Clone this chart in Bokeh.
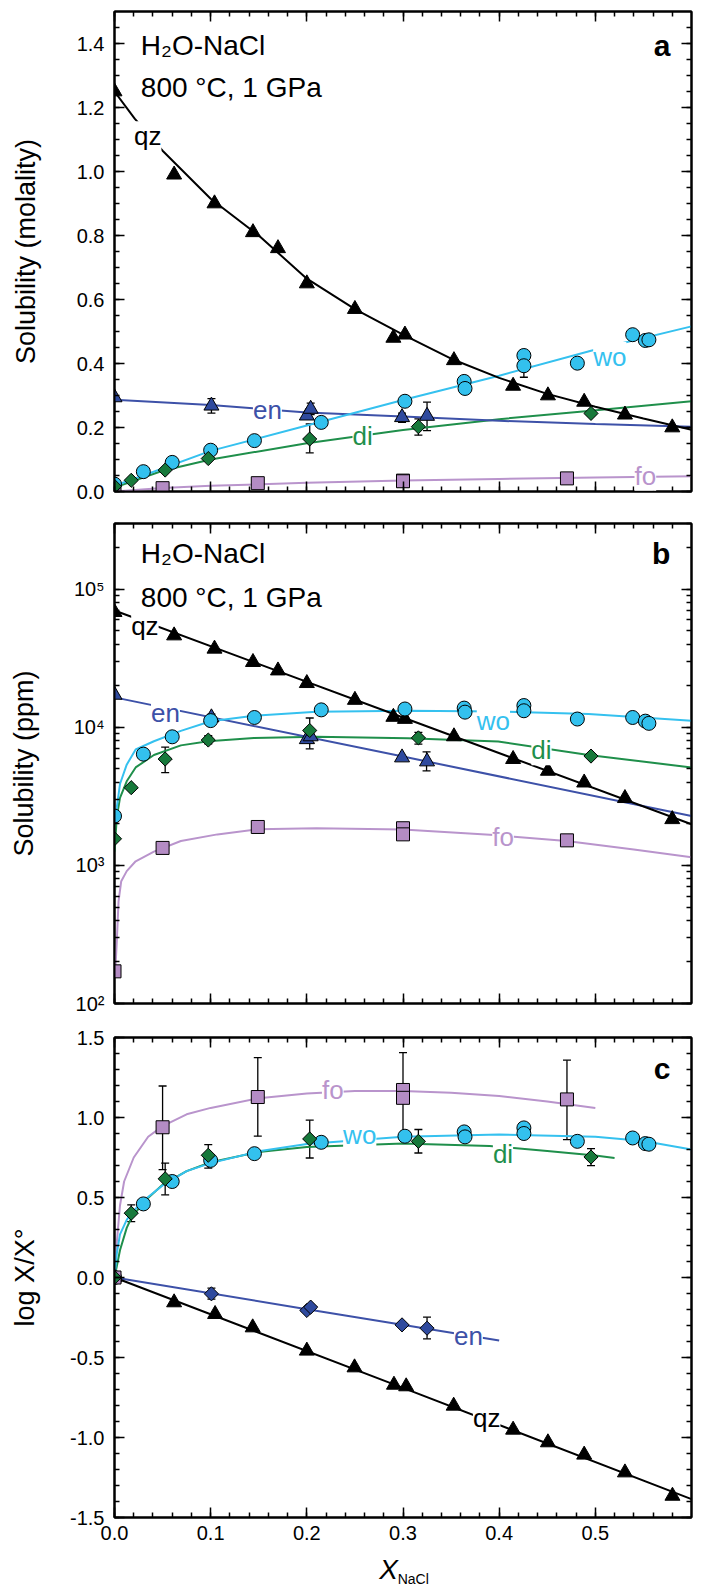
import math
from bokeh.plotting import figure
from bokeh.models import (Range1d, LinearAxis, LogAxis, SingleIntervalTicker, LogTicker,
                          Label, Whisker, TeeHead, ColumnDataSource, NumeralTickFormatter,
                          CustomJSTickFormatter)
from bokeh.layouts import column
from bokeh.embed import file_html
from bokeh.resources import INLINE

FONT = "Liberation Sans"

# ---------------- data ----------------
# quartz (qz)
qz_x = [0.0, 0.062, 0.104, 0.144, 0.170, 0.200, 0.250, 0.290, 0.302, 0.353, 0.4145, 0.4507, 0.4884, 0.5308, 0.580]
qz_molal = [1.25, 0.99, 0.90, 0.81, 0.76, 0.65, 0.57, 0.48, 0.49, 0.41, 0.33, 0.30, 0.28, 0.24, 0.20]
qz_ppm = [68400, 46300, 37100, 29700, 25800, 20900, 15800, 11900, 11500, 8600, 5890, 4840, 3980, 3070, 2160]
qz_c_x = [0.0, 0.062, 0.1046, 0.1437, 0.200, 0.2496, 0.2906, 0.3033, 0.3527, 0.4145, 0.4507, 0.4884, 0.5308, 0.5802]
qz_logr = [0.0, -0.156, -0.229, -0.3125, -0.458, -0.5625, -0.671, -0.681, -0.802, -0.952, -1.031, -1.108, -1.219, -1.365]

# enstatite (en)
en_x = [0.0, 0.1008, 0.200, 0.204, 0.299, 0.325]
en_molal = [0.294, 0.268, 0.237, 0.258, 0.232, 0.236]
en_ppm = [17200, 11800, 8200, 8600, 6050, 5660]
en_logr = [0.0, -0.102, -0.206, -0.185, -0.296, -0.317]

# wollastonite (wo)
wo_x = [0.0, 0.030, 0.060, 0.100, 0.1455, 0.215, 0.302, 0.3636, 0.3645, 0.4257, 0.4257, 0.4813, 0.5388, 0.552, 0.5557]
wo_molal = [0.023, 0.062, 0.091, 0.129, 0.159, 0.216, 0.282, 0.344, 0.322, 0.425, 0.393, 0.401, 0.490, 0.472, 0.474]
wo_ppm = [2280, 6400, 8550, 11200, 11800, 13400, 13600, 13800, 12900, 14400, 13200, 11500, 11800, 11100, 10700]
wo_logr = [0.0, 0.460, 0.600, 0.732, 0.774, 0.845, 0.883, 0.910, 0.879, 0.935, 0.900, 0.851, 0.872, 0.837, 0.833]

# diopside (di)
di_x = [0.0, 0.0174, 0.0527, 0.0975, 0.203, 0.316, 0.4955]
di_molal = [0.016, 0.035, 0.067, 0.103, 0.164, 0.2025, 0.244]
di_ppm = [1560, 3660, 5900, 8100, 9500, 8400, 6200]
di_logr = [0.0, 0.402, 0.617, 0.764, 0.866, 0.851, 0.753]

# forsterite (fo)
fo_x = [0.0, 0.05, 0.149, 0.300, 0.300, 0.4705]
fo_molal = [0.001, 0.0104, 0.026, 0.034, 0.032, 0.041]
fo_ppm = [171, 1340, 1900, 1860, 1680, 1520]
fo_logr = [0.0, 0.939, 1.128, 1.172, 1.123, 1.113]

# error bars
err_a_en_x = [0.1008, 0.204, 0.299, 0.325]
err_a_en_lo = [0.245, 0.240, 0.216, 0.190]
err_a_en_hi = [0.290, 0.276, 0.245, 0.279]
err_a_di_x = [0.203, 0.316]
err_a_di_lo = [0.121, 0.176]
err_a_di_hi = [0.211, 0.227]
err_a_wo_x = [0.4257]
err_a_wo_lo = [0.357]
err_a_wo_hi = [0.430]

err_b_en_x = [0.1008, 0.204, 0.3245]
err_b_en_lo = [10500, 7700, 4840]
err_b_en_hi = [12500, 8900, 6650]
err_b_di_x = [0.0527, 0.0975, 0.203, 0.316]
err_b_di_lo = [4700, 7600, 7000, 7570]
err_b_di_hi = [7200, 8700, 11700, 9200]

err_c_fo_x = [0.05, 0.149, 0.300, 0.4705]
err_c_fo_lo = [0.674, 0.883, 0.860, 0.862]
err_c_fo_hi = [1.197, 1.374, 1.406, 1.358]
err_c_di_x = [0.0174, 0.0527, 0.0975, 0.203, 0.316, 0.4955]
err_c_di_lo = [0.349, 0.517, 0.684, 0.747, 0.778, 0.699]
err_c_di_hi = [0.454, 0.715, 0.830, 0.983, 0.925, 0.805]
err_c_en_x = [0.1008, 0.325]
err_c_en_lo = [-0.135, -0.383]
err_c_en_hi = [-0.067, -0.248]

# fitted curves
qz_fit_a_x = [0.0, 0.021, 0.05, 0.1, 0.15, 0.2, 0.25, 0.3, 0.35, 0.4, 0.45, 0.5, 0.55, 0.6]
qz_fit_a_y = [1.25, 1.165, 1.065, 0.915, 0.80, 0.665, 0.57, 0.49, 0.415, 0.355, 0.305, 0.265, 0.228, 0.193]
en_fit_a_x = [0.0, 0.1, 0.2, 0.3, 0.4, 0.5, 0.6]
en_fit_a_y = [0.287, 0.270, 0.247, 0.234, 0.221, 0.211, 0.2025]
wo_fit_a_x = [0.0, 0.03, 0.1, 0.2, 0.3, 0.4, 0.4955, 0.6]
wo_fit_a_y = [0.018, 0.05, 0.127, 0.206, 0.286, 0.362, 0.44, 0.516]
di_fit_a_x = [0.0, 0.05, 0.1, 0.2, 0.3, 0.4, 0.4955, 0.6]
di_fit_a_y = [0.0125, 0.065, 0.10, 0.151, 0.192, 0.226, 0.2525, 0.282]
fo_fit_a_x = [0.0, 0.05, 0.1, 0.2, 0.3, 0.4, 0.5, 0.6]
fo_fit_a_y = [0.0, 0.011, 0.018, 0.027, 0.034, 0.039, 0.044, 0.048]

qz_fit_b_x = [0.0, 0.3, 0.6]
qz_fit_b_y = [70300, 11800, 1990]
en_fit_b_x = [0.0, 0.3, 0.6]
en_fit_b_y = [16500, 6150, 2280]
wo_fit_b_x = [0.0, 0.0024, 0.0057, 0.0127, 0.022, 0.041, 0.069, 0.1, 0.145, 0.21, 0.305, 0.399, 0.493, 0.6]
wo_fit_b_y = [2140, 2630, 3890, 5370, 6920, 7940, 9440, 11070, 12160, 13000, 13210, 13060, 12500, 11170]
di_fit_b_x = [0.0, 0.0024, 0.0057, 0.0127, 0.022, 0.041, 0.069, 0.0975, 0.145, 0.21, 0.305, 0.399, 0.493, 0.6]
di_fit_b_y = [1260, 2240, 3090, 4070, 5130, 6310, 7410, 7940, 8380, 8550, 8360, 7910, 6310, 5130]
fo_fit_b_x = [0.0, 0.001, 0.0024, 0.0042, 0.007, 0.0127, 0.022, 0.041, 0.069, 0.107, 0.149, 0.21, 0.3, 0.399, 0.47, 0.54, 0.6]
fo_fit_b_y = [158, 182, 282, 550, 769, 910, 1072, 1259, 1503, 1679, 1828, 1858, 1820, 1652, 1503, 1306, 1148]

qz_fit_c_x = [0.0, 0.3, 0.6]
qz_fit_c_y = [0.0, -0.69, -1.385]
en_fit_c_x = [0.0, 0.2, 0.4]
en_fit_c_y = [0.0, -0.198, -0.394]
wo_fit_c_x = [0.0, 0.0024, 0.0057, 0.0127, 0.0174, 0.03, 0.05, 0.075, 0.1, 0.15, 0.2, 0.3, 0.4, 0.5, 0.55, 0.6]
wo_fit_c_y = [0.0, 0.15, 0.27, 0.36, 0.40, 0.48, 0.575, 0.665, 0.715, 0.789, 0.835, 0.88, 0.893, 0.879, 0.853, 0.80]
di_fit_c_x = [0.0, 0.0024, 0.0057, 0.0127, 0.0174, 0.03, 0.05, 0.075, 0.1, 0.15, 0.2, 0.3, 0.39, 0.45, 0.5, 0.52]
di_fit_c_y = [0.0, 0.07, 0.17, 0.31, 0.37, 0.47, 0.58, 0.665, 0.72, 0.785, 0.815, 0.837, 0.822, 0.79, 0.762, 0.747]
fo_fit_c_x = [0.0, 0.0024, 0.0057, 0.01, 0.02, 0.035, 0.05, 0.075, 0.1, 0.15, 0.2, 0.25, 0.3, 0.35, 0.4, 0.45, 0.5]
fo_fit_c_y = [0.0, 0.22, 0.45, 0.60, 0.75, 0.88, 0.946, 1.02, 1.06, 1.12, 1.15, 1.165, 1.165, 1.155, 1.134, 1.10, 1.06]

log_tick_labels = {100: "10²", 1000: "10³", 10000: "10⁴", 100000: "10⁵"}

# ---------------- styles ----------------
C_QZ = "black"
C_EN_L, C_EN_F = "#3d51a8", "#2f4a9e"
C_WO_L, C_WO_F = "#35c1ef", "#33c1ee"
C_DI_L, C_DI_F = "#1f8f4b", "#17793b"
C_FO_L, C_FO_F = "#b994cc", "#b48cc4"

CURVE_FS = "26px"
NOTE_FS = "28px"
PANEL_FS = "30px"
FIG_W = 708
BORDER_L = 114
BORDER_R = 17


def tick_style(ax, labels=True):
    ax.major_tick_in = 10
    ax.major_tick_out = 0
    ax.minor_tick_in = 5
    ax.minor_tick_out = 0
    ax.major_tick_line_width = 1.5
    ax.minor_tick_line_width = 1.5
    ax.axis_line_width = 2
    ax.major_label_text_font = FONT
    ax.major_label_text_font_size = "20px"
    ax.major_label_text_color = "black"
    ax.axis_label_text_font = FONT
    ax.axis_label_text_font_style = "normal"
    ax.axis_label_text_font_size = "27px"
    ax.axis_label_text_color = "black"
    if not labels:
        ax.formatter = CustomJSTickFormatter(code="return ''")
        ax.major_label_standoff = 0
        ax.major_label_text_font_size = "1px"


def make_fig(height, y_range, y_type, top, bottom, y_ticker, y_fmt, y_label, label_standoff,
             x_labels=False):
    p = figure(width=FIG_W, height=height, x_range=Range1d(0, 0.6), y_range=y_range,
               y_axis_type=y_type, output_backend="svg", toolbar_location=None,
               min_border_left=BORDER_L, min_border_right=BORDER_R, min_border_top=top,
               min_border_bottom=bottom)
    p.xgrid.visible = False
    p.ygrid.visible = False
    p.outline_line_color = "black"
    p.outline_line_width = 2
    p.background_fill_color = "white"
    p.border_fill_color = "white"

    xa = p.xaxis[0]
    xa.ticker = SingleIntervalTicker(interval=0.1, num_minor_ticks=5)
    tick_style(xa, labels=x_labels)
    if x_labels:
        xa.formatter = NumeralTickFormatter(format="0.0")
        xa.major_label_standoff = 8

    ya = p.yaxis[0]
    ya.ticker = y_ticker
    tick_style(ya)
    if isinstance(y_fmt, dict):
        ya.major_label_overrides = y_fmt
    else:
        ya.formatter = y_fmt
    ya.major_label_standoff = 10
    ya.axis_label = y_label
    ya.axis_label_standoff = label_standoff

    top_ax = LinearAxis(ticker=SingleIntervalTicker(interval=0.1, num_minor_ticks=5))
    tick_style(top_ax, labels=False)
    p.add_layout(top_ax, "above")
    if y_type == "log":
        right_ax = LogAxis(ticker=LogTicker(num_minor_ticks=10))
    else:
        right_ax = LinearAxis(ticker=SingleIntervalTicker(interval=y_ticker.interval,
                                                          num_minor_ticks=y_ticker.num_minor_ticks))
    tick_style(right_ax, labels=False)
    p.add_layout(right_ax, "right")
    return p


def curve(p, x, y, color):
    p.line(x, y, line_color=color, line_width=2)


def pts(p, x, y, marker, fill, size):
    if marker == "diamond":
        p.scatter(x, y, marker="square", angle=math.pi / 4, size=size, fill_color=fill,
                  line_color="black", line_width=1)
    else:
        p.scatter(x, y, marker=marker, size=size, fill_color=fill, line_color="black",
                  line_width=1)


def errs(p, x, lo, hi):
    src = ColumnDataSource(dict(base=x, lower=lo, upper=hi))
    w = Whisker(source=src, base="base", lower="lower", upper="upper", line_color="black",
                line_width=1.3, level="underlay",
                upper_head=TeeHead(size=8, line_color="black", line_width=1.3),
                lower_head=TeeHead(size=8, line_color="black", line_width=1.3))
    p.add_layout(w)


def lab(p, x, y, text, color="black", size=CURVE_FS, bold=False, align="center", bg="white",
        italic=False):
    style = "bold" if bold else ("italic" if italic else "normal")
    p.add_layout(Label(x=x, y=y, text=text, text_color=color, text_font=FONT,
                       text_font_size=size, text_font_style=style,
                       text_align=align, text_baseline="middle",
                       background_fill_color=bg))


# ---------------- panel a ----------------
pa = make_fig(507, Range1d(0, 1.5), "linear", 11, 16,
              SingleIntervalTicker(interval=0.2, num_minor_ticks=4),
              NumeralTickFormatter(format="0.0"), "Solubility (molality)", 33)

curve(pa, fo_fit_a_x, fo_fit_a_y, C_FO_L)
curve(pa, di_fit_a_x, di_fit_a_y, C_DI_L)
curve(pa, en_fit_a_x, en_fit_a_y, C_EN_L)
curve(pa, wo_fit_a_x, wo_fit_a_y, C_WO_L)
curve(pa, qz_fit_a_x, qz_fit_a_y, C_QZ)
errs(pa, err_a_en_x, err_a_en_lo, err_a_en_hi)
errs(pa, err_a_di_x, err_a_di_lo, err_a_di_hi)
errs(pa, err_a_wo_x, err_a_wo_lo, err_a_wo_hi)
pts(pa, qz_x, qz_molal, "triangle", "black", 15)
pts(pa, en_x, en_molal, "triangle", C_EN_F, 15)
pts(pa, fo_x, fo_molal, "square", C_FO_F, 13)
pts(pa, wo_x, wo_molal, "circle", C_WO_F, 14)
pts(pa, di_x, di_molal, "diamond", C_DI_F, 10)

lab(pa, 0.0345, 1.11, "qz", C_QZ)
lab(pa, 0.159, 0.255, "en", C_EN_L)
lab(pa, 0.515, 0.42, "wo", C_WO_L)
lab(pa, 0.258, 0.172, "di", C_DI_L)
lab(pa, 0.552, 0.049, "fo", C_FO_L)
lab(pa, 0.0274, 1.395, "H₂O-NaCl", size=NOTE_FS, align="left", bg=None)
lab(pa, 0.0274, 1.264, "800 °C, 1 GPa", size=NOTE_FS, align="left", bg=None)
lab(pa, 0.578, 1.395, "a", size=PANEL_FS, bold=True, align="right", bg=None)

# ---------------- panel b ----------------
pb = make_fig(513, Range1d(100, 3e5), "log", 16, 17,
              LogTicker(num_minor_ticks=10), log_tick_labels, "Solubility (ppm)", 32)

curve(pb, fo_fit_b_x, fo_fit_b_y, C_FO_L)
curve(pb, di_fit_b_x, di_fit_b_y, C_DI_L)
curve(pb, en_fit_b_x, en_fit_b_y, C_EN_L)
curve(pb, wo_fit_b_x, wo_fit_b_y, C_WO_L)
curve(pb, qz_fit_b_x, qz_fit_b_y, C_QZ)
errs(pb, err_b_en_x, err_b_en_lo, err_b_en_hi)
errs(pb, err_b_di_x, err_b_di_lo, err_b_di_hi)
pts(pb, qz_x, qz_ppm, "triangle", "black", 15)
pts(pb, en_x, en_ppm, "triangle", C_EN_F, 15)
pts(pb, fo_x, fo_ppm, "square", C_FO_F, 13)
pts(pb, wo_x, wo_ppm, "circle", C_WO_F, 14)
pts(pb, di_x, di_ppm, "diamond", C_DI_F, 10)

lab(pb, 0.0316, 54700, "qz", C_QZ)
lab(pb, 0.053, 12700, "en", C_EN_L)
lab(pb, 0.394, 11200, "wo", C_WO_L)
lab(pb, 0.444, 6840, "di", C_DI_L)
lab(pb, 0.404, 1610, "fo", C_FO_L)
lab(pb, 0.0274, 1.83e5, "H₂O-NaCl", size=NOTE_FS, align="left", bg=None)
lab(pb, 0.0274, 8.7e4, "800 °C, 1 GPa", size=NOTE_FS, align="left", bg=None)
lab(pb, 0.578, 1.82e5, "b", size=PANEL_FS, bold=True, align="right", bg=None)

# ---------------- panel c ----------------
pc = make_fig(529, Range1d(-1.5, 1.5), "linear", 17, 32,
              SingleIntervalTicker(interval=0.5, num_minor_ticks=5),
              NumeralTickFormatter(format="0.0"), "log X/X°", 27, x_labels=True)

curve(pc, fo_fit_c_x, fo_fit_c_y, C_FO_L)
curve(pc, di_fit_c_x, di_fit_c_y, C_DI_L)
curve(pc, wo_fit_c_x, wo_fit_c_y, C_WO_L)
curve(pc, en_fit_c_x, en_fit_c_y, C_EN_L)
curve(pc, qz_fit_c_x, qz_fit_c_y, C_QZ)
errs(pc, err_c_fo_x, err_c_fo_lo, err_c_fo_hi)
errs(pc, err_c_di_x, err_c_di_lo, err_c_di_hi)
errs(pc, err_c_en_x, err_c_en_lo, err_c_en_hi)
pts(pc, qz_c_x, qz_logr, "triangle", "black", 15)
pts(pc, en_x, en_logr, "diamond", C_EN_F, 10)
pts(pc, wo_x, wo_logr, "circle", C_WO_F, 14)
pts(pc, fo_x, fo_logr, "square", C_FO_F, 13)
pts(pc, di_x, di_logr, "diamond", C_DI_F, 10)

lab(pc, 0.227, 1.172, "fo", C_FO_L)
lab(pc, 0.255, 0.893, "wo", C_WO_L)
lab(pc, 0.404, 0.774, "di", C_DI_L)
lab(pc, 0.368, -0.365, "en", C_EN_L)
lab(pc, 0.387, -0.879, "qz", C_QZ)
lab(pc, 0.578, 1.306, "c", size=PANEL_FS, bold=True, align="right", bg=None)

# ---------------- x-axis title strip (X_NaCl) ----------------
px = figure(width=FIG_W, height=39, x_range=Range1d(0, 0.6), y_range=Range1d(0, 1),
            x_axis_type=None, y_axis_type=None, output_backend="svg", toolbar_location=None,
            min_border_left=BORDER_L, min_border_right=BORDER_R, min_border_top=0,
            min_border_bottom=0)
px.outline_line_color = None
px.xgrid.visible = False
px.ygrid.visible = False
lab(px, 0.285, 0.487, "X", size="28px", italic=True, bg=None)
lab(px, 0.2945, 0.231, "NaCl", size="14px", align="left", bg=None)

layout = column(pa, pb, pc, px, spacing=0)
open("out.html", "w").write(file_html(layout, INLINE))
